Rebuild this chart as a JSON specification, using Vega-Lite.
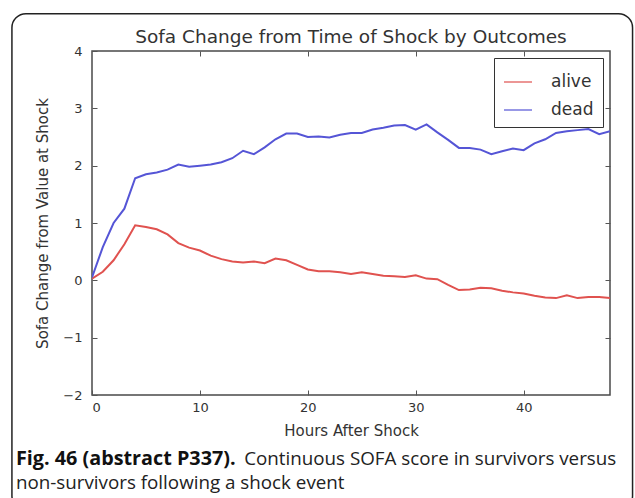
{
  "$schema": "https://vega.github.io/schema/vega-lite/v6.json",
  "width": 518,
  "height": 344,
  "autosize": "none",
  "padding": {"left": 92, "top": 51, "right": 25, "bottom": 103},
  "background": "white",
  "title": {"text": "Sofa Change from Time of Shock by Outcomes", "fontSize": 18.5, "font": "DejaVu Sans", "fontWeight": "normal", "color": "#333333", "offset": -34, "anchor": "middle"},
  "config": {
    "view": {"stroke": "#4a4a4a", "strokeWidth": 1.5},
    "axis": {"labelFont": "DejaVu Sans", "titleFont": "DejaVu Sans", "labelColor": "#333333", "titleColor": "#333333", "tickColor": "#555555", "domain": false, "grid": false, "titleFontWeight": "normal"}
  },
  "datasets": {
    "sofa": [
      {"hour": 0, "outcome": "alive", "change": 0.03}, {"hour": 1, "outcome": "alive", "change": 0.15}, {"hour": 2, "outcome": "alive", "change": 0.35}, {"hour": 3, "outcome": "alive", "change": 0.63}, {"hour": 4, "outcome": "alive", "change": 0.96}, {"hour": 5, "outcome": "alive", "change": 0.93}, {"hour": 6, "outcome": "alive", "change": 0.89}, {"hour": 7, "outcome": "alive", "change": 0.8}, {"hour": 8, "outcome": "alive", "change": 0.65}, {"hour": 9, "outcome": "alive", "change": 0.57}, {"hour": 10, "outcome": "alive", "change": 0.52}, {"hour": 11, "outcome": "alive", "change": 0.43}, {"hour": 12, "outcome": "alive", "change": 0.37}, {"hour": 13, "outcome": "alive", "change": 0.33}, {"hour": 14, "outcome": "alive", "change": 0.31}, {"hour": 15, "outcome": "alive", "change": 0.33}, {"hour": 16, "outcome": "alive", "change": 0.3}, {"hour": 17, "outcome": "alive", "change": 0.38}, {"hour": 18, "outcome": "alive", "change": 0.35}, {"hour": 19, "outcome": "alive", "change": 0.27}, {"hour": 20, "outcome": "alive", "change": 0.19}, {"hour": 21, "outcome": "alive", "change": 0.16}, {"hour": 22, "outcome": "alive", "change": 0.16}, {"hour": 23, "outcome": "alive", "change": 0.14}, {"hour": 24, "outcome": "alive", "change": 0.11}, {"hour": 25, "outcome": "alive", "change": 0.14}, {"hour": 26, "outcome": "alive", "change": 0.11}, {"hour": 27, "outcome": "alive", "change": 0.08}, {"hour": 28, "outcome": "alive", "change": 0.07}, {"hour": 29, "outcome": "alive", "change": 0.06}, {"hour": 30, "outcome": "alive", "change": 0.09}, {"hour": 31, "outcome": "alive", "change": 0.03}, {"hour": 32, "outcome": "alive", "change": 0.02}, {"hour": 33, "outcome": "alive", "change": -0.08}, {"hour": 34, "outcome": "alive", "change": -0.17}, {"hour": 35, "outcome": "alive", "change": -0.16}, {"hour": 36, "outcome": "alive", "change": -0.13}, {"hour": 37, "outcome": "alive", "change": -0.14}, {"hour": 38, "outcome": "alive", "change": -0.18}, {"hour": 39, "outcome": "alive", "change": -0.21}, {"hour": 40, "outcome": "alive", "change": -0.23}, {"hour": 41, "outcome": "alive", "change": -0.27}, {"hour": 42, "outcome": "alive", "change": -0.3}, {"hour": 43, "outcome": "alive", "change": -0.31}, {"hour": 44, "outcome": "alive", "change": -0.26}, {"hour": 45, "outcome": "alive", "change": -0.31}, {"hour": 46, "outcome": "alive", "change": -0.29}, {"hour": 47, "outcome": "alive", "change": -0.29}, {"hour": 48, "outcome": "alive", "change": -0.31},
      {"hour": 0, "outcome": "dead", "change": 0.05}, {"hour": 1, "outcome": "dead", "change": 0.58}, {"hour": 2, "outcome": "dead", "change": 1.0}, {"hour": 3, "outcome": "dead", "change": 1.25}, {"hour": 4, "outcome": "dead", "change": 1.78}, {"hour": 5, "outcome": "dead", "change": 1.85}, {"hour": 6, "outcome": "dead", "change": 1.88}, {"hour": 7, "outcome": "dead", "change": 1.93}, {"hour": 8, "outcome": "dead", "change": 2.02}, {"hour": 9, "outcome": "dead", "change": 1.98}, {"hour": 10, "outcome": "dead", "change": 2.0}, {"hour": 11, "outcome": "dead", "change": 2.02}, {"hour": 12, "outcome": "dead", "change": 2.06}, {"hour": 13, "outcome": "dead", "change": 2.13}, {"hour": 14, "outcome": "dead", "change": 2.26}, {"hour": 15, "outcome": "dead", "change": 2.2}, {"hour": 16, "outcome": "dead", "change": 2.32}, {"hour": 17, "outcome": "dead", "change": 2.46}, {"hour": 18, "outcome": "dead", "change": 2.56}, {"hour": 19, "outcome": "dead", "change": 2.56}, {"hour": 20, "outcome": "dead", "change": 2.5}, {"hour": 21, "outcome": "dead", "change": 2.51}, {"hour": 22, "outcome": "dead", "change": 2.49}, {"hour": 23, "outcome": "dead", "change": 2.54}, {"hour": 24, "outcome": "dead", "change": 2.57}, {"hour": 25, "outcome": "dead", "change": 2.57}, {"hour": 26, "outcome": "dead", "change": 2.63}, {"hour": 27, "outcome": "dead", "change": 2.66}, {"hour": 28, "outcome": "dead", "change": 2.7}, {"hour": 29, "outcome": "dead", "change": 2.71}, {"hour": 30, "outcome": "dead", "change": 2.63}, {"hour": 31, "outcome": "dead", "change": 2.72}, {"hour": 32, "outcome": "dead", "change": 2.58}, {"hour": 33, "outcome": "dead", "change": 2.45}, {"hour": 34, "outcome": "dead", "change": 2.31}, {"hour": 35, "outcome": "dead", "change": 2.31}, {"hour": 36, "outcome": "dead", "change": 2.28}, {"hour": 37, "outcome": "dead", "change": 2.2}, {"hour": 38, "outcome": "dead", "change": 2.25}, {"hour": 39, "outcome": "dead", "change": 2.3}, {"hour": 40, "outcome": "dead", "change": 2.27}, {"hour": 41, "outcome": "dead", "change": 2.39}, {"hour": 42, "outcome": "dead", "change": 2.46}, {"hour": 43, "outcome": "dead", "change": 2.57}, {"hour": 44, "outcome": "dead", "change": 2.6}, {"hour": 45, "outcome": "dead", "change": 2.62}, {"hour": 46, "outcome": "dead", "change": 2.64}, {"hour": 47, "outcome": "dead", "change": 2.55}, {"hour": 48, "outcome": "dead", "change": 2.6}
    ],
    "one": [{"k": 1}]
  },
  "layer": [
    {
      "data": {"name": "sofa"},
      "mark": {"type": "line", "strokeWidth": 2, "clip": true},
      "encoding": {
        "x": {"field": "hour", "type": "quantitative", "scale": {"domain": [0, 48], "nice": false, "zero": false}, "axis": {"orient": "bottom", "values": [0, 10, 20, 30, 40], "tickSize": -5, "labelPadding": 11, "labelFontSize": 13, "title": "Hours After Shock", "titleFontSize": 15, "titlePadding": 9}},
        "y": {"field": "change", "type": "quantitative", "scale": {"domain": [-2, 4], "nice": false, "zero": false}, "axis": {"orient": "left", "values": [-2, -1, 0, 1, 2, 3, 4], "tickSize": -5, "labelPadding": 15, "labelFontSize": 13, "title": "Sofa Change from Value at Shock", "titleFontSize": 15, "titlePadding": 12}},
        "color": {"field": "outcome", "type": "nominal", "scale": {"domain": ["alive", "dead"], "range": ["#e0524f", "#5555d6"]}, "legend": {"title": null, "orient": "top-right", "offset": 7, "direction": "vertical", "strokeColor": "#333333", "fillColor": "white", "padding": 9, "rowPadding": 5, "symbolType": "stroke", "symbolSize": 784, "symbolStrokeWidth": 2, "symbolOpacity": 0.6, "labelFont": "DejaVu Sans", "labelFontSize": 17, "labelColor": "#333333", "labelOffset": 18}}
      }
    },
    {
      "data": {"name": "one"},
      "mark": {"type": "rect", "fill": null, "stroke": "#222222", "strokeWidth": 1.5, "cornerRadius": 14, "clip": false},
      "encoding": {
        "x": {"datum": -7.42, "type": "quantitative", "scale": {"domain": [0, 48], "nice": false, "zero": false}, "axis": {"orient": "top", "values": [10, 20, 30, 40], "labels": false, "tickSize": -5, "title": null}},
        "x2": {"datum": 50.09},
        "y": {"datum": 4.65, "type": "quantitative", "scale": {"domain": [-2, 4], "nice": false, "zero": false}, "axis": {"orient": "right", "values": [-1, 0, 1, 2, 3], "labels": false, "tickSize": -5, "title": null}},
        "y2": {"datum": -4.0}
      }
    },
    {
      "data": {"name": "one"},
      "mark": {"type": "text", "text": "Fig. 46 (abstract P337).", "font": "Open Sans", "fontWeight": "bold", "fontSize": 19.8, "align": "left", "baseline": "middle", "color": "#111111"},
      "encoding": {
        "x": {"datum": -7.05, "type": "quantitative", "axis": null},
        "y": {"datum": -3.12, "type": "quantitative", "axis": null}
      }
    },
    {
      "data": {"name": "one"},
      "mark": {"type": "text", "text": "Continuous SOFA score in survivors versus", "font": "Open Sans", "fontSize": 18.8, "align": "left", "baseline": "middle", "color": "#222222"},
      "encoding": {
        "x": {"datum": 14.1, "type": "quantitative", "axis": null},
        "y": {"datum": -3.12, "type": "quantitative", "axis": null}
      }
    },
    {
      "data": {"name": "one"},
      "mark": {"type": "text", "text": "non-survivors following a shock event", "font": "Open Sans", "fontSize": 18.8, "align": "left", "baseline": "middle", "color": "#222222"},
      "encoding": {
        "x": {"datum": -7.05, "type": "quantitative", "axis": null},
        "y": {"datum": -3.54, "type": "quantitative", "axis": null}
      }
    }
  ],
  "resolve": {"axis": {"x": "independent", "y": "independent"}}
}
